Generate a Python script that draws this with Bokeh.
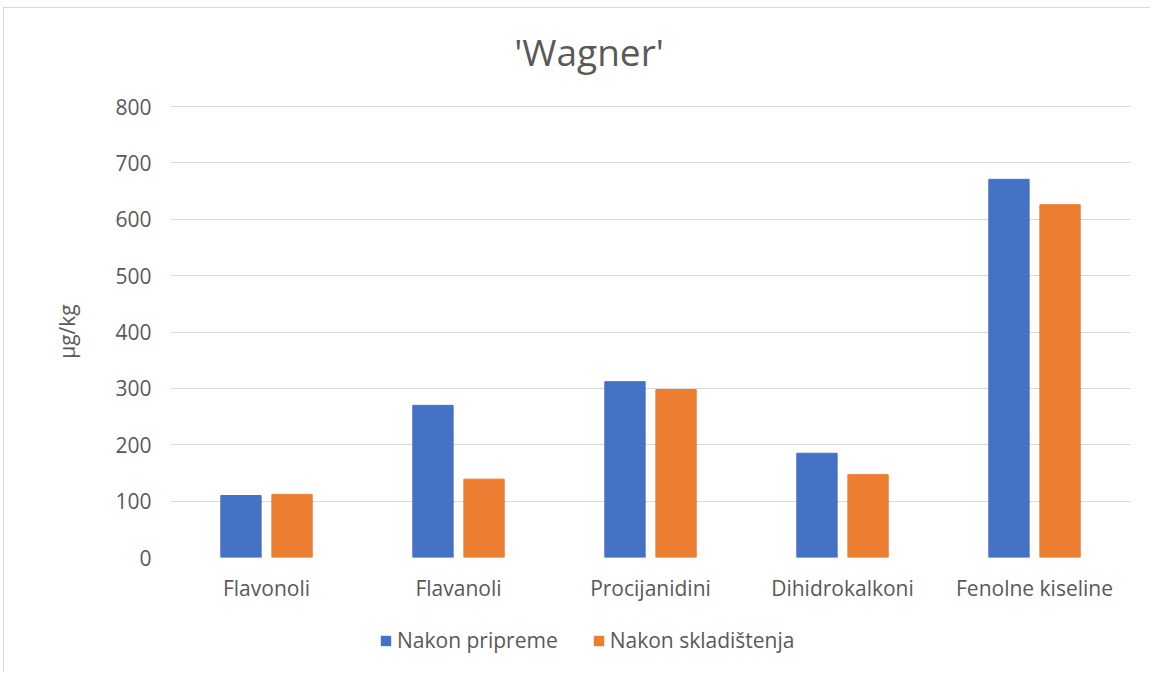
from bokeh.plotting import figure
from bokeh.models import ColumnDataSource, Legend, LegendItem, FixedTicker, Label, Range1d
from bokeh.layouts import column
from bokeh.transform import dodge
from bokeh.embed import file_html
from bokeh.resources import INLINE

categories = ["Flavonoli", "Flavanoli", "Procijanidini", "Dihidrokalkoni", "Fenolne kiseline"]
nakon_pripreme = [110, 270, 312, 185, 671]
nakon_skladistenja = [112, 139, 298, 147, 626]
series_names = ["Nakon pripreme", "Nakon skladištenja"]
y_ticks = [0, 100, 200, 300, 400, 500, 600, 700, 800]
chart_title = "'Wagner'"

FONT = "Open Sans"
TXT = "#595959"
BLUE = "#4472C4"
ORANGE = "#ED7D31"

src = ColumnDataSource(dict(cat=categories, a=nakon_pripreme, b=nakon_skladistenja))

# title strip
tf = figure(width=1146, height=81, output_backend="svg", toolbar_location=None,
            x_axis_type=None, y_axis_type=None, min_border=0, title=None,
            x_range=(0, 1), y_range=(0, 1))
tf.outline_line_color = None
tf.grid.grid_line_color = None
tf.add_layout(Label(x=0.436, y=0.47, text=chart_title, text_align="center",
                    text_baseline="middle", text_font=FONT, text_font_size="37px",
                    text_color=TXT))

# main chart
p = figure(x_range=categories, y_range=(0, 802), width=1146, height=519,
           output_backend="svg", toolbar_location=None, title=None,
           min_border_left=166, min_border_right=20, min_border_top=16, min_border_bottom=51)

r1 = p.vbar(x=dodge("cat", -0.133, range=p.x_range), top="a", width=0.21, source=src,
            fill_color=BLUE, line_color=BLUE)
r2 = p.vbar(x=dodge("cat", 0.133, range=p.x_range), top="b", width=0.21, source=src,
            fill_color=ORANGE, line_color=ORANGE)

p.outline_line_color = None
p.background_fill_color = "white"
p.border_fill_color = "white"

p.xgrid.grid_line_color = None
p.ygrid.grid_line_color = "#D9D9D9"
p.ygrid.grid_line_width = 1

p.yaxis.ticker = FixedTicker(ticks=y_ticks)
p.yaxis.axis_line_color = None
p.yaxis.major_tick_line_color = None
p.yaxis.minor_tick_line_color = None
p.yaxis.major_label_text_font = FONT
p.yaxis.major_label_text_font_size = "21px"
p.yaxis.major_label_text_color = TXT
p.yaxis.major_label_standoff = 13
p.yaxis.axis_label = "µg/kg"
p.yaxis.axis_label_text_font = FONT
p.yaxis.axis_label_text_font_size = "21px"
p.yaxis.axis_label_text_font_style = "normal"
p.yaxis.axis_label_text_color = TXT
p.yaxis.axis_label_standoff = 31

p.xaxis.axis_line_color = None
p.xaxis.major_tick_line_color = None
p.xaxis.minor_tick_line_color = None
p.xaxis.major_label_text_font = FONT
p.xaxis.major_label_text_font_size = "21px"
p.xaxis.major_label_text_color = TXT
p.xaxis.major_label_standoff = 10

# legend strip below the chart (same series, lying outside its visible y-range)
lg = figure(width=1146, height=64, output_backend="svg", toolbar_location=None,
            x_axis_type=None, y_axis_type=None, min_border=0, title=None,
            x_range=p.x_range, y_range=Range1d(5000, 5001))
lg.outline_line_color = None
lg.grid.grid_line_color = None
g1 = lg.vbar(x=dodge("cat", -0.133, range=lg.x_range), top="a", width=0.21, source=src,
             fill_color=BLUE, line_color=None)
g2 = lg.vbar(x=dodge("cat", 0.133, range=lg.x_range), top="b", width=0.21, source=src,
             fill_color=ORANGE, line_color=None)

legend = Legend(items=[LegendItem(label=series_names[0], renderers=[g1]),
                       LegendItem(label=series_names[1], renderers=[g2])],
                orientation="horizontal", location=(209, 18))
legend.label_text_font = FONT
legend.label_text_font_size = "21px"
legend.label_text_color = TXT
legend.border_line_color = None
legend.background_fill_alpha = 0
legend.glyph_width = 13
legend.glyph_height = 13
legend.label_standoff = 5
legend.spacing = 34
lg.add_layout(legend, "center")

layout = column(tf, p, lg, margin=(7, 0, 0, 3),
                styles={"border-left": "1px solid #D9D9D9", "border-top": "1px solid #D9D9D9"})

open("out.html", "w").write(file_html(layout, INLINE))
